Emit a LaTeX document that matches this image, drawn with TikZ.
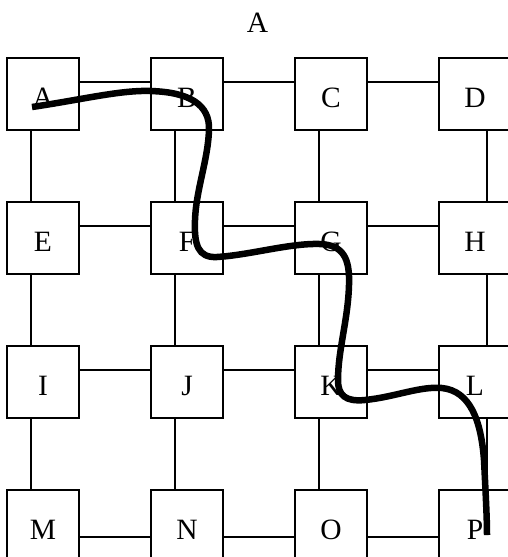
\documentclass[tikz,border=0pt]{standalone}
\usepackage{fontspec}
\setmainfont{Liberation Serif}
\begin{document}
\begin{tikzpicture}[x=1pt,y=-1pt,
  box/.style={draw,line width=1.3pt,minimum size=72pt,inner sep=0pt,
    font=\fontsize{29.5}{30}\selectfont,text height=26pt,text depth=0pt},
  link/.style={line width=1.3pt},
  route/.style={line width=6.5pt,line cap=butt}]
\useasboundingbox (0,0) rectangle (508,557);
\node[font=\fontsize{29.5}{30}\selectfont,inner sep=0pt] (title) at (257.5,23) {A};
% nodes
\foreach \n/\c/\r in {A/0/0,B/1/0,C/2/0,D/3/0,E/0/1,F/1/1,G/2/1,H/3/1,
                      I/0/2,J/1/2,K/2/2,L/3/2,M/0/3,N/1/3,O/2/3,P/3/3}
  \node[box] (\n) at ({43+144*\c},{94+144*\r}) {\n};
% horizontal links
\foreach \a/\b in {A/B,B/C,C/D,E/F,F/G,G/H,I/J,J/K,K/L}
  \draw[link] ([yshift=12pt]\a.east) -- ([yshift=12pt]\b.west);
\foreach \a/\b in {M/N,N/O,O/P}
  \draw[link] ([yshift=-11pt]\a.east) -- ([yshift=-11pt]\b.west);
% vertical links
\foreach \a/\b in {A/E,E/I,I/M,B/F,F/J,J/N,C/G,G/K,K/O}
  \draw[link] ([xshift=-12pt]\a.south) -- ([xshift=-12pt]\b.north);
\foreach \a/\b in {D/H,H/L,L/P}
  \draw[link] ([xshift=12pt]\a.south) -- ([xshift=12pt]\b.north);
% route
\coordinate (rs) at ([shift={(-11pt,-13pt)}]A.center);
\coordinate (re) at ([shift={(12pt,-9pt)}]P.center);
\draw[route] (rs)
  .. controls (80,100) and (120,90) .. (150,91)
  .. controls (190,92) and (210,105) .. (209,130)
  .. controls (208,160) and (196,190) .. (195,220)
  .. controls (194,245) and (198,258) .. (217,257)
  .. controls (250,255) and (290,243) .. (320,244)
  .. controls (343,245) and (350,258) .. (349,285)
  .. controls (348,320) and (338,350) .. (338,380)
  .. controls (338,395) and (345,402) .. (365,400)
  .. controls (395,397) and (420,386) .. (442,388)
  .. controls (470,391) and (481,420) .. (484,460)
  .. controls (486,500) and (487,520) .. (re);
\end{tikzpicture}
\end{document}
